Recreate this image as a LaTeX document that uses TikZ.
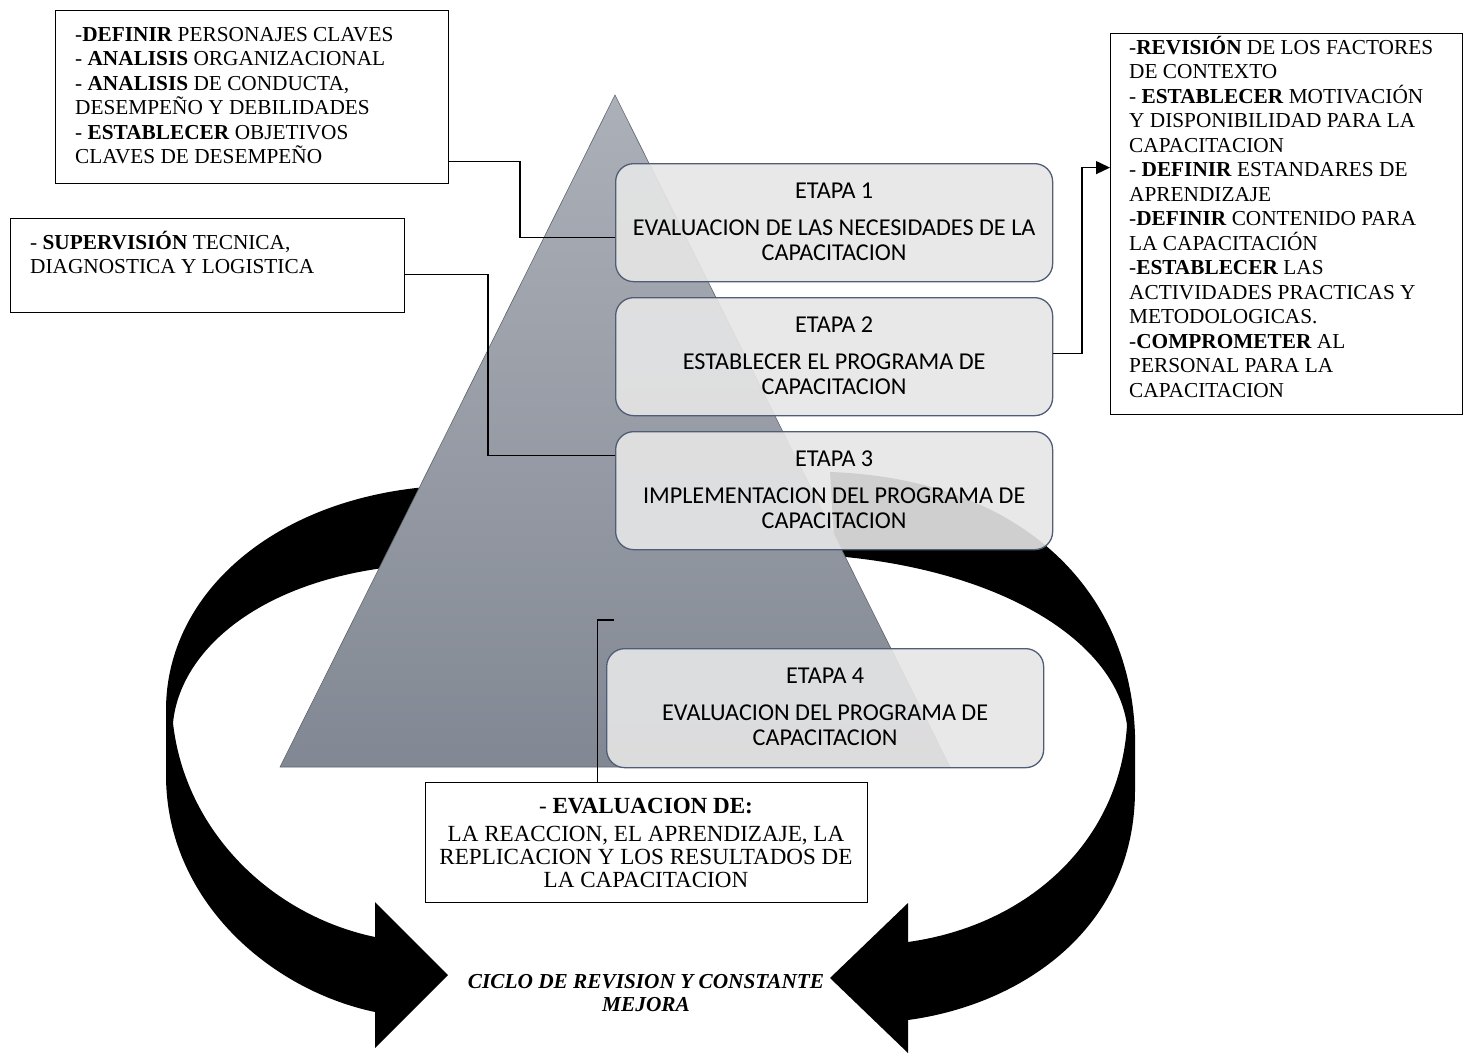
\documentclass[tikz,border=0pt]{standalone}
\usepackage{fontspec}
\setmainfont{Liberation Serif}
\newfontfamily\carlito{Carlito}
\usetikzlibrary{arrows.meta}
\definecolor{boxfill}{RGB}{230,230,230}
\definecolor{boxline}{RGB}{79,94,118}
\definecolor{tritop}{RGB}{172,176,184}
\definecolor{tribot}{RGB}{130,136,147}
\definecolor{triedge}{RGB}{95,100,110}
\begin{document}
\begin{tikzpicture}[x=1pt,y=-1pt,
  stagebox/.style={draw=boxline, line width=1.3pt, fill=boxfill, fill opacity=0.9, rounded corners=18pt, minimum width=437pt, minimum height=118pt, anchor=north west, inner sep=0pt},
  stagetext/.style={font=\carlito\fontsize{24.2}{25}\selectfont, align=center, anchor=north, inner sep=0pt},
  notebox/.style={draw=black, line width=1.2pt, fill=white, anchor=north west, inner sep=0pt},
  notetext/.style={font=\fontsize{21.3}{24.5}\selectfont, align=left, anchor=north west, inner sep=0pt},
  conn/.style={line width=1.3pt, draw=black},
  band/.style={fill=black}
]
\useasboundingbox (0,0) rectangle (1468,1053);

% curved arrows
\fill[band] (440,486) .. controls (280,495) and (166,590) .. (166,710) -- (166,775)
  .. controls (166,900) and (270,990) .. (375,1012) -- (375,1048) -- (448,975) -- (375,902) -- (375,937)
  .. controls (270,915) and (185,830) .. (173,723) .. controls (180,650) and (260,580) .. (400,566) -- cycle;
\fill[band] (830,472) .. controls (1010,478) and (1130,580) .. (1135,735) -- (1135,790)
  .. controls (1135,930) and (1020,1005) .. (908,1020) -- (908,1053) -- (830,978) -- (908,903) -- (908,942)
  .. controls (1030,925) and (1120,840) .. (1127,725) .. controls (1115,640) and (1000,570) .. (835,556) -- cycle;

% triangle
\shadedraw[top color=tritop, bottom color=tribot, draw=triedge, line width=0.6pt] (615,95) -- (950,767) -- (280,767) -- cycle;

% note boxes
\node[notebox, minimum width=393pt, minimum height=173pt] (na) at (55,10) {};
\node[notebox, minimum width=394pt, minimum height=94pt] (nb) at (10,218) {};
\node[notebox, minimum width=352pt, minimum height=381pt] (nc) at (1110,33) {};
\node[notebox, minimum width=442pt, minimum height=120pt] (nd) at (425,782) {};

% stage boxes
\node[stagebox] (b1) at (615,163) {};
\node[stagebox] (b2) at (615,297) {};
\node[stagebox] (b3) at (615,431) {};
\node[stagebox, minimum height=119pt] (b4) at (606,648) {};

% connectors
\coordinate (c4end) at (614,620);
\draw[conn] ([yshift=23pt]na.south east) -| ([xshift=-95pt,yshift=-15pt]b1.west) -- ([yshift=-15pt]b1.west);
\draw[conn] ([yshift=-9pt]nb.east) -| ([xshift=-127pt,yshift=35pt]b3.west) -- ([yshift=35pt]b3.west);
\draw[conn, -{Triangle[length=14pt,width=13pt]}] ([yshift=3pt]b2.east) -| ([xshift=-28pt,yshift=56.5pt]nc.west) -- ([yshift=56.5pt]nc.west);
\draw[conn] ([xshift=-49pt]nd.north) |- (c4end);

% stage texts
\node[stagetext] (t1) at ([yshift=-19pt]b1.north) {\rule{0pt}{16pt}ETAPA 1\\[12.5pt]EVALUACION DE LAS NECESIDADES DE LA\\CAPACITACION};
\node[stagetext] (t2) at ([yshift=-19pt]b2.north) {\rule{0pt}{16pt}ETAPA 2\\[12.5pt]ESTABLECER EL PROGRAMA DE\\CAPACITACION};
\node[stagetext] (t3) at ([yshift=-19pt]b3.north) {\rule{0pt}{16pt}ETAPA 3\\[12.5pt]IMPLEMENTACION DEL PROGRAMA DE\\CAPACITACION};
\node[stagetext] (t4) at ([yshift=-19pt]b4.north) {\rule{0pt}{16pt}ETAPA 4\\[12.5pt]EVALUACION DEL PROGRAMA DE\\CAPACITACION};

% note texts
\node[notetext] (tna) at (75,25) {\rule{0pt}{16pt}-\textbf{DEFINIR} PERSONAJES CLAVES\\- \textbf{ANALISIS} ORGANIZACIONAL\\- \textbf{ANALISIS} DE CONDUCTA,\\DESEMPEÑO Y DEBILIDADES\\- \textbf{ESTABLECER} OBJETIVOS\\CLAVES DE DESEMPEÑO};
\node[notetext] (tnb) at (30,231) {\rule{0pt}{16pt}- \textbf{SUPERVISIÓN} TECNICA,\\DIAGNOSTICA Y LOGISTICA};
\node[notetext] (tnc) at (1129,36) {\rule{0pt}{16pt}-\textbf{REVISIÓN} DE LOS FACTORES\\DE CONTEXTO\\- \textbf{ESTABLECER} MOTIVACIÓN\\Y DISPONIBILIDAD PARA LA\\CAPACITACION\\- \textbf{DEFINIR} ESTANDARES DE\\APRENDIZAJE\\-\textbf{DEFINIR} CONTENIDO PARA\\LA CAPACITACIÓN\\-\textbf{ESTABLECER} LAS\\ACTIVIDADES PRACTICAS Y\\METODOLOGICAS.\\-\textbf{COMPROMETER} AL\\PERSONAL PARA LA\\CAPACITACION};
\node[notetext, align=center, anchor=north, font=\fontsize{23.1}{23.3}\selectfont] (tnd) at (646,797) {\rule{0pt}{16pt}- \textbf{EVALUACION DE:}\\[4.5pt]LA REACCION, EL APRENDIZAJE, LA\\REPLICACION Y LOS RESULTADOS DE\\LA CAPACITACION};

% cycle label
\node[anchor=north, align=center, inner sep=0pt, font=\bfseries\itshape\fontsize{21.3}{23}\selectfont] (cyc) at (646,972) {\rule{0pt}{16pt}CICLO DE REVISION Y CONSTANTE\\MEJORA};
\end{tikzpicture}
\end{document}
